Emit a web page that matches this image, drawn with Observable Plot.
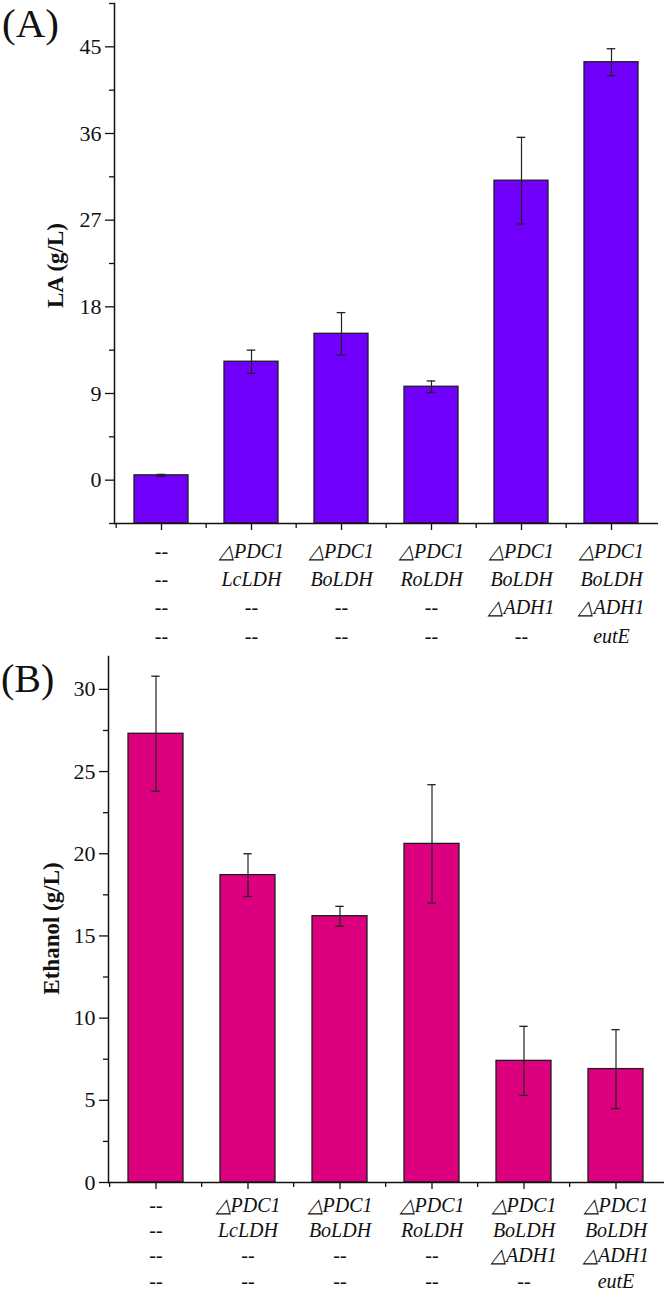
<!DOCTYPE html>
<html>
<head>
<meta charset="utf-8">
<script src="https://cdn.jsdelivr.net/npm/d3@7"></script>
<script src="https://cdn.jsdelivr.net/npm/@observablehq/plot@0.6"></script>
<style>
  html, body { margin: 0; padding: 0; background: #fff; }
  #wrap { position: relative; width: 666px; height: 1291px; overflow: hidden; background: #fff; }
  .panel { position: absolute; left: 0; z-index: 1; }
  .tag { position: absolute; z-index: 3; font-family: "Liberation Serif", "Times New Roman", serif; line-height: 1.1; color: #111; }
</style>
</head>
<body>
<div id="wrap">
  <div class="tag" style="left:2px; top:1px; font-size:41px;">(A)</div>
  <div class="tag" style="left:1px; top:657px; font-size:40px;">(B)</div>
  <div id="pa" class="panel" style="top:0px;"></div>
  <div id="pb" class="panel" style="top:650px;"></div>
</div>
<script>
// ---- data ----
const strains = ["S1", "S2", "S3", "S4", "S5", "S6"];
const labelRow1 = ["--", "△PDC1", "△PDC1", "△PDC1", "△PDC1", "△PDC1"];
const labelRow2 = ["--", "LcLDH", "BoLDH", "RoLDH", "BoLDH", "BoLDH"];
const labelRow3 = ["--", "--", "--", "--", "△ADH1", "△ADH1"];
const labelRow4 = ["--", "--", "--", "--", "--", "eutE"];
const laValues = [0.5, 12.3, 15.2, 9.7, 31.1, 43.4];
const laErrors = [0.1, 1.2, 2.2, 0.6, 4.5, 1.4];
const ethanolValues = [27.3, 18.7, 16.2, 20.6, 7.4, 6.9];
const ethanolErrors = [3.5, 1.3, 0.6, 3.6, 2.1, 2.4];
const laTicks = [0, 9, 18, 27, 36, 45];
const laMinorTicks = [-4.5, 4.5, 13.5, 22.5, 31.5, 40.5, 49.5];
const ethTicks = [0, 5, 10, 15, 20, 25, 30];
const ethMinorTicks = [2.5, 7.5, 12.5, 17.5, 22.5, 27.5];

const tickLabel = new Map(strains.map((s, i) =>
  [s, [labelRow1[i], labelRow2[i], labelRow3[i], labelRow4[i]].join("\n")]));

function panel(opts) {
  const data = strains.map((s, i) => ({strain: s, v: opts.values[i], e: opts.errors[i]}));
  const plotW = 666 - opts.ml - opts.mr;
  const step = plotW / strains.length;
  const bw = step * 0.6;
  const capInset = (bw - 9) / 2;
  const base = opts.domain[0];
  return Plot.plot({
    width: 666,
    height: opts.height,
    marginTop: opts.mt,
    marginBottom: opts.mb,
    marginLeft: opts.ml,
    marginRight: opts.mr,
    style: {fontFamily: "'Liberation Serif', 'Times New Roman', serif", fontSize: "19px", color: "#111", background: "transparent", overflow: "visible"},
    x: {domain: strains, paddingInner: 0.4, paddingOuter: 0.2, align: 0.5},
    y: {domain: opts.domain},
    marks: [
      Plot.barY(data, {x: "strain", y1: base, y2: "v", fill: opts.color, stroke: "#1c1c1c", strokeWidth: 1.3}),
      Plot.ruleX(data, {x: "strain", y1: d => d.v - d.e, y2: d => d.v + d.e, stroke: "#222", strokeWidth: 1.2}),
      Plot.tickY(data, {x: "strain", y: d => d.v + d.e, stroke: "#222", strokeWidth: 1.3, insetLeft: capInset, insetRight: capInset}),
      Plot.tickY(data, {x: "strain", y: d => d.v - d.e, stroke: "#222", strokeWidth: 1.3, insetLeft: capInset, insetRight: capInset}),
      Plot.ruleY([base], {stroke: "#111", strokeWidth: 1.5}),
      Plot.frame({anchor: "left", stroke: "#111", strokeWidth: 1.5}),
      Plot.axisY({ticks: opts.ticks, tickSize: 9, tickPadding: 4, tickFormat: d => String(d), fontSize: 22, label: null, stroke: "#111", strokeWidth: 1.3}),
      Plot.axisY({ticks: opts.minor, tickSize: 5, tickFormat: () => "", label: null, stroke: "#111", strokeWidth: 1.3}),
      Plot.axisX({tickSize: 7, tickPadding: opts.xPad, tickFormat: d => tickLabel.get(d), fontSize: 20, fontStyle: "italic", lineHeight: opts.lineHeight, label: null, stroke: "#111", strokeWidth: 1.3}),
      Plot.axisX(strains, {tickSize: 5, tickFormat: () => "", dx: -step / 2, label: null, stroke: "#111", strokeWidth: 1.3}),
      Plot.text([opts.label], {frameAnchor: "left", textAnchor: "middle", dx: opts.labelDx, dy: opts.labelDy, rotate: -90, fontSize: 23, fontWeight: "bold", fill: "#111"})
    ]
  });
}

document.getElementById("pa").appendChild(panel({
  values: laValues, errors: laErrors, color: "#7000fb",
  domain: [-4.5, 49.5], ticks: laTicks, minor: laMinorTicks,
  height: 650, mt: 3, mb: 127, ml: 114, mr: 8, xPad: 7, lineHeight: 1.42,
  label: "LA (g/L)", labelDx: -59, labelDy: 2
}));
document.getElementById("pb").appendChild(panel({
  values: ethanolValues, errors: ethanolErrors, color: "#dc007f",
  domain: [0, 32], ticks: ethTicks, minor: ethMinorTicks,
  height: 641, mt: 6, mb: 109, ml: 108, mr: 2, xPad: 4, lineHeight: 1.27,
  label: "Ethanol (g/L)", labelDx: -57, labelDy: 9
}));
</script>
</body>
</html>
